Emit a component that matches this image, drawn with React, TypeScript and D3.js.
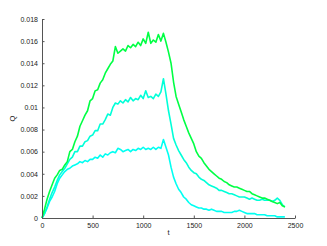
import React from 'react';
import * as d3 from 'd3';

// time grid (every 25 units, 0..2400)
const times = d3.range(0, 2401, 25);

const upperQ = [
	0, 0.0008, 0.0017, 0.0024, 0.003, 0.0036, 0.0039, 0.0043, 0.0044, 0.0048,
	0.0051, 0.006, 0.0062, 0.0069, 0.0074, 0.0083, 0.0088, 0.0093, 0.0097, 0.0106,
	0.0108, 0.0115, 0.0116, 0.0122, 0.0125, 0.0131, 0.0135, 0.0139, 0.0142, 0.0155,
	0.0149, 0.0151, 0.0153, 0.0151, 0.0156, 0.0154, 0.0157, 0.0155, 0.0159, 0.0156,
	0.0162, 0.0158, 0.0168, 0.0158, 0.0161, 0.0159, 0.0166, 0.016, 0.0167, 0.0159,
	0.015, 0.014, 0.0123, 0.011, 0.0103, 0.0096, 0.0089, 0.0083, 0.0077, 0.0072,
	0.0067, 0.006, 0.0056, 0.0054, 0.005, 0.0047, 0.0044, 0.0042, 0.004, 0.0038,
	0.0036, 0.0035, 0.0033, 0.0032, 0.003, 0.0029, 0.0028, 0.0028, 0.0027, 0.0026,
	0.0025, 0.0024, 0.0024, 0.0022, 0.0021, 0.002, 0.0019, 0.0018, 0.0018, 0.0017,
	0.0016, 0.0015, 0.0014, 0.0013, 0.0014, 0.0011, 0.001,
];

const middleQ = [
	0, 0.0004, 0.001, 0.0017, 0.0023, 0.0028, 0.0034, 0.0039, 0.0042, 0.0045,
	0.0049, 0.0053, 0.0055, 0.006, 0.006, 0.0065, 0.0065, 0.0069, 0.007, 0.0074,
	0.0075, 0.0079, 0.0079, 0.0085, 0.0085, 0.0089, 0.0094, 0.0093, 0.01, 0.0104,
	0.0103, 0.0106, 0.0104, 0.0107, 0.0105, 0.0109, 0.0106, 0.0108, 0.0107, 0.0111,
	0.0108, 0.0115, 0.0109, 0.011, 0.0108, 0.0112, 0.011, 0.0114, 0.0126, 0.0112,
	0.0097, 0.0085, 0.0072, 0.0066, 0.0061, 0.0057, 0.0053, 0.005, 0.0046, 0.0043,
	0.0041, 0.004, 0.0037, 0.0035, 0.0034, 0.0032, 0.003, 0.0029, 0.0028, 0.0027,
	0.0025, 0.0025, 0.0024, 0.0023, 0.0022, 0.0022, 0.0021, 0.002, 0.0019, 0.0019,
	0.0019, 0.0018, 0.0017, 0.0018, 0.0017, 0.0016, 0.0016, 0.0017, 0.0016, 0.0016,
	0.0016, 0.0015, 0.0016, 0.0018, 0.0016, 0.0012, 0.001,
];

const lowerQ = [
	0, 0.0004, 0.0009, 0.0015, 0.0019, 0.0024, 0.0031, 0.0036, 0.0039, 0.0042,
	0.0044, 0.0045, 0.0047, 0.0048, 0.0049, 0.0051, 0.005, 0.0052, 0.0051, 0.0053,
	0.0053, 0.0055, 0.0054, 0.0057, 0.0055, 0.0058, 0.0057, 0.0059, 0.006, 0.0059,
	0.0063, 0.0062, 0.006, 0.0061, 0.0062, 0.006, 0.0062, 0.0061, 0.0063, 0.0062,
	0.0064, 0.0062, 0.0063, 0.0062, 0.0064, 0.0062, 0.0064, 0.0063, 0.0071, 0.0064,
	0.0057, 0.0046, 0.0037, 0.0031, 0.0026, 0.0023, 0.0019, 0.0017, 0.0014, 0.0012,
	0.0011, 0.001, 0.0009, 0.0009, 0.0008, 0.0008, 0.0007, 0.0008, 0.0007, 0.0006,
	0.0006, 0.0006, 0.0005, 0.0005, 0.0005, 0.0005, 0.0006, 0.0006, 0.0007, 0.0006,
	0.0005, 0.0004, 0.0004, 0.0004, 0.0004, 0.0003, 0.0003, 0.0003, 0.0003, 0.0002,
	0.0002, 0.0002, 0.0002, 0.0001, 0.0001, 0.0001, 0.0001,
];

const xTicks = [0, 500, 1000, 1500, 2000, 2500];
const yTicks = [0, 0.002, 0.004, 0.006, 0.008, 0.01, 0.012, 0.014, 0.016, 0.018];

const series = [
	{ name: 'upper', values: upperQ, color: '#00ff44' },
	{ name: 'middle', values: middleQ, color: '#00ffd8' },
	{ name: 'lower', values: lowerQ, color: '#00fff2' },
];

const width = 327;
const height = 246;
const margin = { top: 19, right: 32, bottom: 28, left: 42 };
const axisColor = '#555';
const font = 'Liberation Sans, Arial, sans-serif';

export default function App() {
	const ref = React.useRef<SVGSVGElement>(null);

	React.useEffect(() => {
		const svg = d3.select(ref.current);
		svg.selectAll('*').remove();

		const x = d3
			.scaleLinear()
			.domain([0, 2500])
			.range([margin.left, width - margin.right]);
		const y = d3
			.scaleLinear()
			.domain([0, 0.018])
			.range([height - margin.bottom, margin.top]);

		const line = d3
			.line<number>()
			.x((d, i) => x(times[i]))
			.y((d) => y(d));

		// lines first, axes drawn over them
		svg
			.append('g')
			.selectAll('path')
			.data(series.slice().reverse())
			.join('path')
			.attr('d', (s) => line(s.values))
			.attr('fill', 'none')
			.attr('stroke', (s) => s.color)
			.attr('stroke-width', 1.6)
			.attr('stroke-linejoin', 'round');

		const xAxis = svg
			.append('g')
			.attr('transform', `translate(0,${height - margin.bottom})`)
			.call(
				d3
					.axisBottom(x)
					.tickValues(xTicks)
					.tickSizeInner(-2.5)
					.tickSizeOuter(0)
					.tickPadding(5)
					.tickFormat(d3.format('d'))
			);

		const yAxis = svg
			.append('g')
			.attr('transform', `translate(${margin.left},0)`)
			.call(
				d3
					.axisLeft(y)
					.tickValues(yTicks)
					.tickSizeInner(-2.5)
					.tickSizeOuter(0)
					.tickPadding(4)
					.tickFormat((d) => (+d === 0 ? '0' : d3.format('')(+(+d).toFixed(3))))
			);

		[xAxis, yAxis].forEach((g) => {
			g.select('.domain').attr('stroke', axisColor);
			g.selectAll('.tick line').attr('stroke', axisColor);
			g.selectAll('.tick text')
				.attr('fill', '#222')
				.style('font-family', font)
				.style('font-size', '7px');
		});

		svg
			.append('text')
			.attr('x', (x(0) + x(2500)) / 2)
			.attr('y', height - 11)
			.attr('text-anchor', 'middle')
			.style('font-family', font)
			.style('font-size', '7.5px')
			.attr('fill', '#222')
			.text('t');

		svg
			.append('text')
			.attr('transform', `translate(15,${(y(0) + y(0.018)) / 2}) rotate(-90)`)
			.attr('text-anchor', 'middle')
			.style('font-family', font)
			.style('font-size', '7.5px')
			.attr('fill', '#222')
			.text('Q');
	}, []);

	return (
		<svg
			ref={ref}
			width={width}
			height={height}
			style={{ position: 'absolute', left: 0, top: 0, background: '#fff' }}
		/>
	);
}
